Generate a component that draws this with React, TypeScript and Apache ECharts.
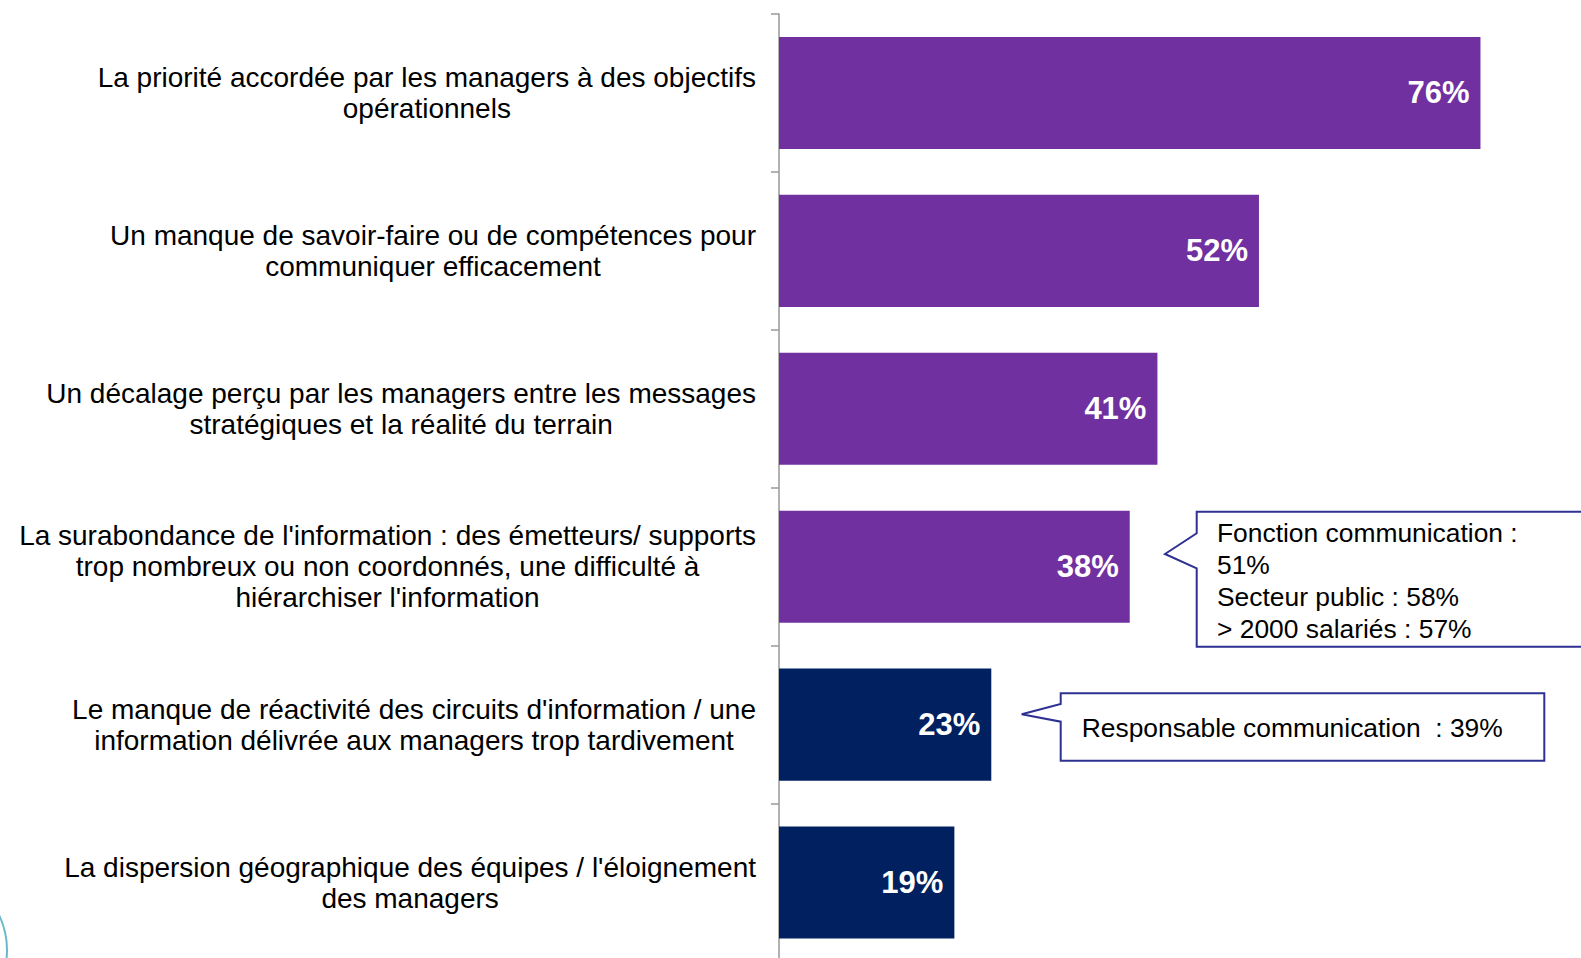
import React, { useEffect, useRef } from "react";
import * as echarts from "echarts";

const categories: string[] = [
  "La priorité accordée par les managers à des objectifs\nopérationnels",
  "Un manque de savoir-faire ou de compétences pour\ncommuniquer efficacement",
  "Un décalage perçu par les managers entre les messages\nstratégiques et la réalité du terrain",
  "La surabondance de l'information : des émetteurs/ supports\ntrop nombreux ou non coordonnés, une difficulté à\nhiérarchiser l'information",
  "Le manque de réactivité des circuits d'information / une\ninformation délivrée aux managers trop tardivement",
  "La dispersion géographique des équipes / l'éloignement\ndes managers",
];

const values: number[] = [76, 52, 41, 38, 23, 19];

const callout1Lines: string[] = [
  "Fonction communication :",
  "51%",
  "Secteur public : 58%",
  "> 2000 salariés : 57%",
];
const callout2Text = "Responsable communication  : 39%";

const PURPLE = "#7030A0";
const NAVY = "#002060";
const BORDER = "#2E3192";
const FONT = "'Liberation Sans', Arial, sans-serif";

export default function App() {
  const ref = useRef<HTMLDivElement>(null);

  useEffect(() => {
    if (!ref.current) return;
    const chart = echarts.init(ref.current, undefined, { renderer: "svg" });
    chart.setOption({
      animation: false,
      backgroundColor: "#ffffff",
      grid: {
        left: 779,
        top: 14,
        width: 803,
        height: 947.5,
        outerBoundsMode: "none",
        containLabel: false,
      },
      xAxis: {
        type: "value",
        min: 0,
        max: 87,
        show: false,
        splitLine: { show: false },
      },
      yAxis: {
        type: "category",
        inverse: true,
        data: categories,
        axisLine: { show: true, lineStyle: { color: "#999999", width: 1.5 } },
        axisTick: { show: true, length: 8, lineStyle: { color: "#999999", width: 1.5 } },
        axisLabel: {
          margin: 23,
          align: "right",
          fontFamily: FONT,
          fontSize: 28,
          color: "#000000",
          lineHeight: 31,
          formatter: (v: string) =>
            v
              .split("\n")
              .map((l) => "{c|" + l + "}")
              .join("\n"),
          rich: {
            c: {
              align: "center",
              fontFamily: FONT,
              fontSize: 28,
              color: "#000000",
              lineHeight: 31,
            },
          },
        },
      },
      series: [
        {
          type: "bar",
          data: values,
          barCategoryGap: "29%",
          itemStyle: {
            color: (p: any) => (p.dataIndex < 4 ? PURPLE : NAVY),
          },
          label: {
            show: true,
            position: "insideRight",
            distance: 11,
            formatter: "{c}%",
            color: "#ffffff",
            fontFamily: FONT,
            fontWeight: "bold",
            fontSize: 31,
          },
        },
      ],
      graphic: [
        {
          type: "polygon",
          shape: {
            points: [
              [1196.7, 511.7],
              [1600, 511.7],
              [1600, 646.7],
              [1196.7, 646.7],
              [1196.7, 568.3],
              [1165, 554],
              [1196.7, 533.3],
            ],
          },
          style: { fill: "#ffffff", stroke: BORDER, lineWidth: 2 },
        },
        {
          type: "text",
          x: 1217,
          y: 581,
          style: {
            text: callout1Lines.join("\n"),
            fontFamily: FONT,
            fontSize: 26.4,
            lineHeight: 32.3,
            fill: "#000000",
            align: "left",
            verticalAlign: "middle",
          },
        },
        {
          type: "polygon",
          shape: {
            points: [
              [1060.7, 693.3],
              [1544.3, 693.3],
              [1544.3, 760.7],
              [1060.7, 760.7],
              [1060.7, 721.7],
              [1021.7, 714.3],
              [1060.7, 704],
            ],
          },
          style: { fill: "#ffffff", stroke: BORDER, lineWidth: 2 },
        },
        {
          type: "text",
          x: 1081.7,
          y: 727.5,
          style: {
            text: callout2Text,
            fontFamily: FONT,
            fontSize: 26.4,
            fill: "#000000",
            align: "left",
            verticalAlign: "middle",
          },
        },
        {
          type: "circle",
          shape: { cx: -74, cy: 950, r: 81 },
          style: { fill: "none", stroke: "#6BB8CC", lineWidth: 2 },
        },
      ],
    });
    return () => chart.dispose();
  }, []);

  return (
    <div
      ref={ref}
      style={{ position: "fixed", left: 0, top: 0, width: 1581, height: 958 }}
    />
  );
}
